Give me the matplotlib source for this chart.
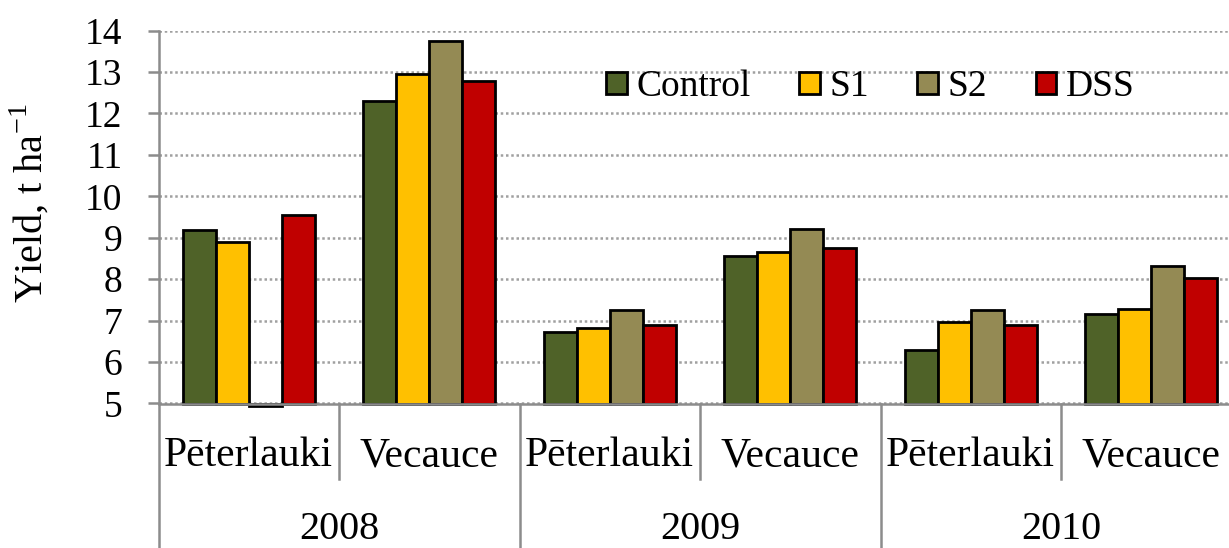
import matplotlib
matplotlib.use("Agg")
import matplotlib.pyplot as plt
import matplotlib.transforms as mtransforms
from matplotlib.lines import Line2D
import numpy as np

# yields, t/ha, per site-year
sites = ["Pēterlauki", "Vecauce", "Pēterlauki", "Vecauce", "Pēterlauki", "Vecauce"]
years = ["2008", "2009", "2010"]
treatments = ["Control", "S1", "S2", "DSS"]
control = [9.19, 12.29, 6.72, 8.55, 6.30, 7.16]
s1 = [8.89, 12.96, 6.82, 8.65, 6.97, 7.28]
s2 = [4.95, 13.74, 7.26, 9.21, 7.26, 8.32]
dss = [9.54, 12.78, 6.89, 8.75, 6.89, 8.03]
colors = ["#4F6228", "#FFC000", "#948A54", "#C00000"]

plt.rcParams["font.family"] = ["Liberation Serif", "DejaVu Serif"]
plt.rcParams["mathtext.fontset"] = "custom"
plt.rcParams["mathtext.rm"] = "Liberation Serif"

AXIS_GREY = "#8c8c8c"
W, H = 1229, 548

fig = plt.figure(figsize=(W / 100, H / 100), dpi=100)
left, right, top, bottom = 158.5, 1241.5, 30.5, 403.5
ax = fig.add_axes([left / W, 1 - bottom / H, (right - left) / W, (bottom - top) / H])

x = np.arange(len(sites)) + 0.5
bw = 0.183
base = 5
for i, (name, vals) in enumerate(zip(treatments, [control, s1, s2, dss])):
    heights = np.array(vals) - base
    ax.bar(x + (i - 1.5) * bw, heights, bw, bottom=base, color=colors[i],
           edgecolor="black", linewidth=2.0, label=name, clip_on=False, zorder=2)

ax.set_xlim(0, 6)
ax.set_ylim(5, 14)
ax.set_yticks(range(5, 15))
ax.set_xticks([])
ax.yaxis.grid(True, color="#a0a0a0", linewidth=1.8, linestyle=(0, (1, 1.1)))
ax.set_axisbelow(True)
for side in ["top", "right"]:
    ax.spines[side].set_visible(False)
for side in ["left", "bottom"]:
    ax.spines[side].set_color(AXIS_GREY)
    ax.spines[side].set_linewidth(1.8)
ax.tick_params(axis="y", length=8, width=1.8, color=AXIS_GREY, labelsize=27, pad=18)

# category axis: separators and two-level labels
trans = mtransforms.blended_transform_factory(ax.transData, fig.transFigure)
y_axis = 1 - bottom / H
for k in range(0, 7):
    y_end = 0 if k % 2 == 0 else 1 - 479 / H
    fig.add_artist(Line2D([k, k], [y_axis, y_end], transform=trans,
                          color=AXIS_GREY, linewidth=1.8))
for xi, s in zip(x, sites):
    fig.text(xi, 1 - 456 / H, s, transform=trans, ha="center", va="center", fontsize=30)
for j, yr in enumerate(years):
    fig.text(2 * j + 1, 1 - 539 / H, yr, transform=trans, ha="center", va="baseline", fontsize=29)

fig.text(30 / W, 1 - 203 / H, r"Yield, t ha$^{-1}$", rotation=90,
         ha="center", va="center", fontsize=29)

ax.legend(loc="center left", bbox_to_anchor=(606 / W, 1 - 87 / H),
          bbox_transform=fig.transFigure, ncol=4, frameon=False, fontsize=27,
          handlelength=0.55, handleheight=0.55, handletextpad=0.25,
          columnspacing=1.3, borderpad=0, borderaxespad=0)

fig.savefig("out.png", dpi=100)
